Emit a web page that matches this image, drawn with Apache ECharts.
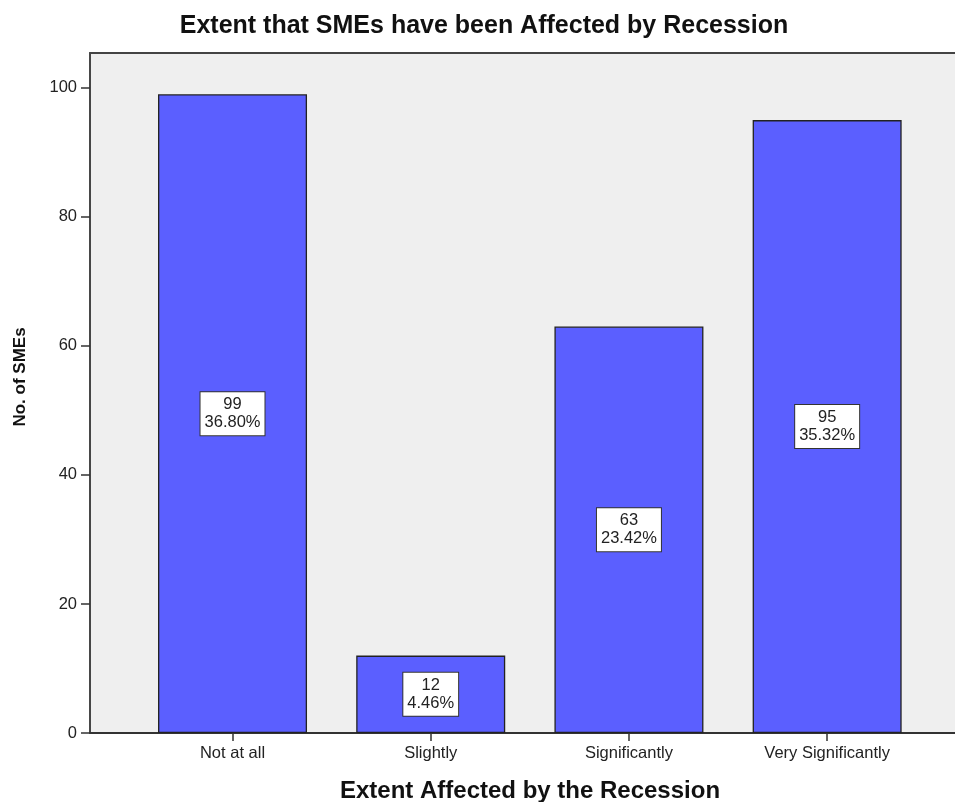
<!DOCTYPE html>
<html>
<head>
<meta charset="utf-8">
<script src="https://cdn.jsdelivr.net/npm/echarts@6/dist/echarts.min.js"></script>
<style>
  html, body { margin: 0; padding: 0; background: #ffffff; }
  #chart { width: 955px; height: 802px; }
</style>
</head>
<body>
<div id="chart"></div>
<script>
// Survey responses: how strongly SMEs were affected by the recession
const categories = ['Not at all', 'Slightly', 'Significantly', 'Very Significantly'];
const counts = [99, 12, 63, 95];
const yTicks = [0, 20, 40, 60, 80, 100];

const total = counts.reduce((a, b) => a + b, 0);
const catIndex = categories.map((_, i) => i);
const FONT = '"Liberation Sans", Arial, sans-serif';

// Category slots sit on a numeric axis so the plot can run past the last bar on the right
const X_MIN = -0.719;
const X_MAX = 3.645;

const chart = echarts.init(document.getElementById('chart'));
chart.setOption({
  animation: false,
  backgroundColor: '#ffffff',
  textStyle: { fontFamily: FONT },
  grid: {
    left: 90, right: 0, top: 53, bottom: 69,
    show: true, backgroundColor: '#efefef', borderWidth: 0
  },
  xAxis: [{
    type: 'value',
    min: X_MIN, max: X_MAX,
    position: 'bottom',
    splitLine: { show: false },
    axisLine: { show: true, onZero: false, lineStyle: { color: '#333', width: 1.8 } },
    axisTick: { show: true, length: 8, lineStyle: { color: '#333', width: 1.5 }, customValues: catIndex },
    axisLabel: {
      color: '#222', fontSize: 16.5, fontFamily: FONT, margin: 12,
      customValues: catIndex,
      formatter: v => categories[Math.round(v)]
    }
  }, {
    type: 'value',
    min: X_MIN, max: X_MAX,
    position: 'top',
    splitLine: { show: false },
    axisLine: { show: true, onZero: false, lineStyle: { color: '#444', width: 2 } },
    axisTick: { show: false },
    axisLabel: { show: false }
  }],
  yAxis: {
    type: 'value',
    min: 0,
    max: 105.4,
    position: 'left',
    axisLine: { show: true, onZero: false, lineStyle: { color: '#333', width: 1.8 } },
    axisTick: { show: true, length: 9, lineStyle: { color: '#333', width: 1.5 }, customValues: yTicks },
    axisLabel: { color: '#222', fontSize: 16.5, fontFamily: FONT, margin: 13, customValues: yTicks },
    splitLine: { show: false }
  },
  graphic: [
    {
      type: 'text', x: 484, y: 26,
      style: { text: 'Extent that SMEs have been Affected by Recession', font: 'bold 25px ' + FONT, fill: '#111', align: 'center', verticalAlign: 'middle' }
    },
    {
      type: 'text', x: 530, y: 791,
      style: { text: 'Extent Affected by the Recession', font: 'bold 24px ' + FONT, fill: '#111', align: 'center', verticalAlign: 'middle' }
    },
    {
      type: 'text', x: 20, y: 377, rotation: Math.PI / 2,
      style: { text: 'No. of SMEs', font: 'bold 17px ' + FONT, fill: '#111', align: 'center', verticalAlign: 'middle' }
    }
  ],
  series: [{
    type: 'bar',
    xAxisIndex: 0,
    data: counts.map((c, i) => [i, c]),
    barWidth: 149,
    itemStyle: { color: '#5b5fff', borderColor: '#222', borderWidth: 1.3 },
    label: {
      show: true,
      position: 'inside',
      formatter: p => p.value[1] + '\n' + (p.value[1] / total * 100).toFixed(2) + '%',
      color: '#222',
      fontSize: 16.5,
      fontFamily: FONT,
      lineHeight: 18,
      align: 'center',
      backgroundColor: '#ffffff',
      borderColor: '#333',
      borderWidth: 1,
      padding: [4, 4, 3, 4]
    }
  }]
});
</script>
</body>
</html>
